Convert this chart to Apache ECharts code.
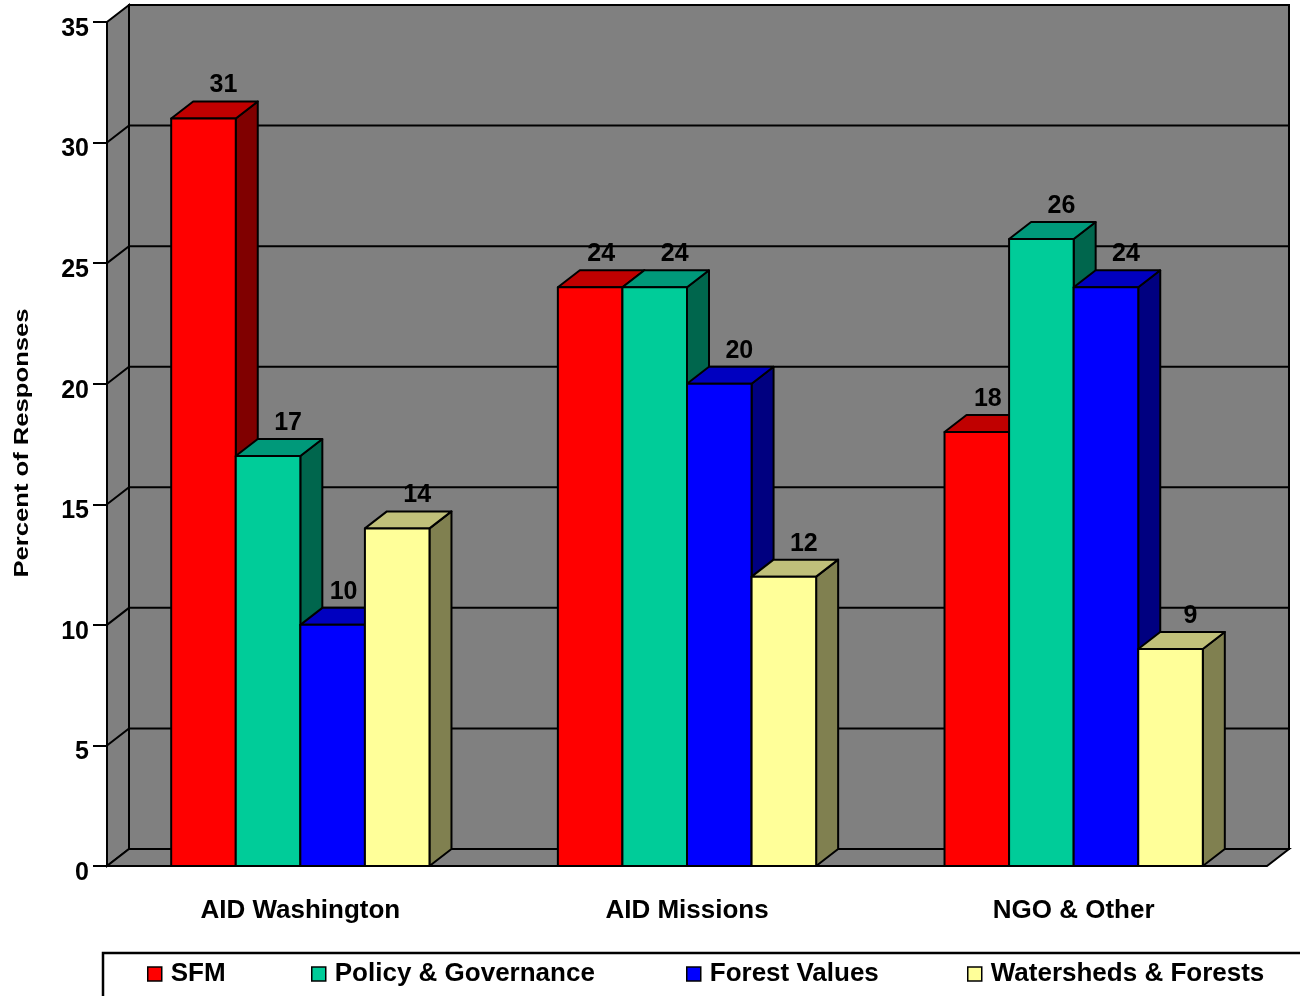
<!DOCTYPE html>
<html>
<head>
<meta charset="utf-8">
<title>Percent of Responses</title>
<script src="https://cdn.jsdelivr.net/npm/echarts@6/dist/echarts.min.js"></script>
<style>
  html, body { margin: 0; padding: 0; background: #fff; }
  #main { width: 1300px; height: 996px; }
</style>
</head>
<body>
<div id="main"></div>
<script>
// data
const categories = ['AID Washington', 'AID Missions', 'NGO & Other'];
const seriesNames = ['SFM', 'Policy & Governance', 'Forest Values', 'Watersheds & Forests'];
const sfm = [31, 24, 18];
const policy = [17, 24, 26];
const forestValues = [10, 20, 24];
const watersheds = [14, 12, 9];
const yTicks = [0, 5, 10, 15, 20, 25, 30, 35];

const values = [sfm, policy, forestValues, watersheds];

// face colours: front, top, side
const faces = [
    ['#FF0000', '#C00000', '#800000'],
    ['#00CC99', '#00997A', '#00664D'],
    ['#0000FF', '#0000C0', '#000080'],
    ['#FFFF99', '#C0C07A', '#808050']
];
const legendLeft = [147, 311, 686, 967];

const DX = 22, DY = -17;      // depth offset of the 3d box
const FONT = "'Liberation Sans', Arial, sans-serif";

let myChart = echarts.init(document.getElementById('main'));

function barGeom(api, cat, val, k) {
    let band = api.size([1, 0])[0];
    let w = band * 0.167;
    let c = api.coord([cat, 0]);
    let l = c[0] - 2 * w + k * w;
    let b = c[1];
    let t = api.coord([cat, val])[1];
    return {l: l, w: w, t: t, b: b};
}

function renderFrame(params, api) {
    let cs = params.coordSys;
    let x0 = cs.x, x1 = cs.x + cs.width;
    let yB = api.coord([0, 0])[1];
    let yT = api.coord([0, yTicks[yTicks.length - 1]])[1];
    let st = {fill: '#808080', stroke: '#000', lineWidth: 2};
    let children = [
        {type: 'polygon', shape: {points: [[x0 + DX, yT + DY], [x1 + DX, yT + DY], [x1 + DX, yB + DY], [x0 + DX, yB + DY]]}, style: st},
        {type: 'polygon', shape: {points: [[x0, yB], [x0 + DX, yB + DY], [x0 + DX, yT + DY], [x0, yT]]}, style: st},
        {type: 'polygon', shape: {points: [[x0, yB], [x1, yB], [x1 + DX, yB + DY], [x0 + DX, yB + DY]]}, style: st}
    ];
    yTicks.forEach(function (v) {
        if (v === 0 || v === yTicks[yTicks.length - 1]) return;
        let y = api.coord([0, v])[1];
        children.push({
            type: 'polyline',
            shape: {points: [[x0, y], [x0 + DX, y + DY], [x1 + DX, y + DY]]},
            style: {stroke: '#000', lineWidth: 2, fill: null}
        });
    });
    return {type: 'group', children: children};
}

function makeBarSeries(k) {
    return {
        type: 'custom',
        name: seriesNames[k],
        z: 3 + k,
        itemStyle: {color: faces[k][0]},
        data: values[k].map(function (v, i) { return [i, v]; }),
        renderItem: function (params, api) {
            let g = barGeom(api, api.value(0), api.value(1), k);
            let l = g.l, w = g.w, t = g.t, b = g.b;
            let ln = {stroke: '#000', lineWidth: 2, lineJoin: 'round'};
            return {
                type: 'group',
                children: [
                    {type: 'polygon', shape: {points: [[l + w, t], [l + w + DX, t + DY], [l + w + DX, b + DY], [l + w, b]]},
                     style: Object.assign({fill: faces[k][2]}, ln)},
                    {type: 'polygon', shape: {points: [[l, t], [l + w, t], [l + w + DX, t + DY], [l + DX, t + DY]]},
                     style: Object.assign({fill: faces[k][1]}, ln)},
                    {type: 'rect', shape: {x: l, y: t, width: w, height: b - t},
                     style: Object.assign({fill: faces[k][0]}, ln)}
                ]
            };
        }
    };
}

// value labels, on top of every bar
let labelData = [];
values.forEach(function (arr, k) {
    arr.forEach(function (v, i) {
        let next = k < values.length - 1 ? values[k + 1][i] : -1;
        labelData.push([i, v, k, next >= v ? 1 : 0]);
    });
});

let series = [{
    type: 'custom',
    name: 'frame',
    z: 1,
    silent: true,
    data: [[0, 0]],
    renderItem: renderFrame
}];
for (let k = 0; k < values.length; k++) series.push(makeBarSeries(k));
series.push({
    type: 'custom',
    name: 'labels',
    z: 20,
    silent: true,
    data: labelData,
    renderItem: function (params, api) {
        let g = barGeom(api, api.value(0), api.value(1), api.value(2));
        let off = api.value(3) ? 11 : 20;
        return {
            type: 'text',
            style: {
                x: g.l + g.w / 2 + off,
                y: g.t + DY - 16,
                text: String(api.value(1)),
                fill: '#000',
                font: 'bold 25px ' + FONT,
                align: 'center',
                verticalAlign: 'middle'
            }
        };
    }
});

let legends = seriesNames.map(function (n, k) {
    return {
        data: [n],
        left: legendLeft[k],
        top: 961,
        padding: 0,
        icon: 'rect',
        itemWidth: 14,
        itemHeight: 14,
        selectedMode: false,
        itemStyle: {borderColor: '#000', borderWidth: 1.5},
        textStyle: {fontFamily: FONT, fontWeight: 'bold', fontSize: 26, color: '#000', padding: [0, 0, 0, 4]}
    };
});

let option = {
    animation: false,
    backgroundColor: '#fff',
    grid: {left: 107, right: 33, top: 22, bottom: 130},
    xAxis: {
        type: 'category',
        data: categories,
        axisLine: {show: false},
        axisTick: {show: false},
        axisLabel: {fontFamily: FONT, fontWeight: 'bold', fontSize: 26, color: '#000', margin: 32}
    },
    yAxis: {
        type: 'value',
        min: 0,
        max: 35,
        interval: 5,
        splitLine: {show: false},
        axisLine: {show: true, lineStyle: {color: '#000', width: 2}},
        axisTick: {show: true, length: 14, lineStyle: {color: '#000', width: 2}},
        axisLabel: {fontFamily: FONT, fontWeight: 'bold', fontSize: 25, color: '#000', margin: 18,
                    verticalAlign: 'top', lineHeight: 14}
    },
    legend: legends,
    graphic: [
        {
            type: 'text',
            x: 22,
            y: 443,
            rotation: Math.PI / 2,
            scaleX: 1.22,
            style: {
                text: 'Percent of Responses',
                font: 'bold 21px ' + FONT,
                fill: '#000',
                align: 'center',
                verticalAlign: 'middle'
            }
        },
        {
            type: 'rect',
            shape: {x: 103, y: 953, width: 1300, height: 100},
            style: {fill: null, stroke: '#000', lineWidth: 2.5}
        }
    ],
    series: series
};
myChart.setOption(option);
</script>
</body>
</html>
